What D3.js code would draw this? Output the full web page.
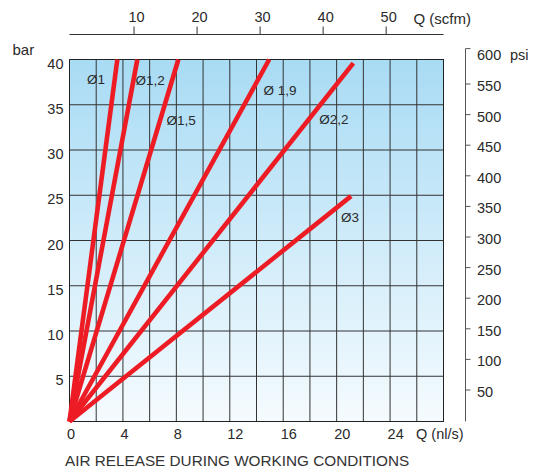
<!DOCTYPE html>
<html>
<head>
<meta charset="utf-8">
<script src="https://cdn.jsdelivr.net/npm/d3@7"></script>
<style>
html,body{margin:0;padding:0;background:#fff;}
svg{display:block;font-family:"Liberation Sans",Arial,sans-serif;}
</style>
</head>
<body>
<svg id="chart" width="547" height="471"></svg>
<script>
// ---- data ----
const seriesNames = ["Ø1", "Ø1,2", "Ø1,5", "Ø 1,9", "Ø2,2", "Ø3"];
// end points of each straight line (start is the origin 0,0)
const endFlow = [3.58, 5.08, 8.15, 14.95, 21.25, 21.08];      // nl/s
const endPressure = [40, 40, 40, 40, 39.6, 24.9];               // bar
// label anchor positions in data units
const labelFlow = [1.98, 6.03, 8.35, 15.76, 19.8, 21.0];
const labelPressure = [37.8, 37.7, 33.3, 36.6, 33.4, 22.6];

const flowTicks = [0, 4, 8, 12, 16, 20, 24];                    // nl/s
const barTicks = [5, 10, 15, 20, 25, 30, 35, 40];
const scfmTicks = [10, 20, 30, 40, 50];
const psiTicks = [50, 100, 150, 200, 250, 300, 350, 400, 450, 500, 550, 600];
const flowGrid = d3.range(0, 29, 2);
const barGrid = d3.range(0, 41, 5);
const SCFM_PER_NLS = 2.119;

(function draw() {
const svg = d3.select("#chart");
const L = 69.5, R = 443.5, T = 59.5, B = 421.5;
const textColor = "#2a2a2a";
const x = d3.scaleLinear().domain([0, 28]).range([L, R]);
const y = d3.scaleLinear().domain([0, 40]).range([B, T]);
const xs = d3.scaleLinear().domain([0, 28 * SCFM_PER_NLS]).range([L + 1, R + 1]);
const yp = d3.scaleLinear().domain([50, 550]).range([389.5, 83.5]);

const defs = svg.append("defs");
const grad = defs.append("linearGradient").attr("id", "bg").attr("x1", 0).attr("y1", 0).attr("x2", 0).attr("y2", 1);
grad.append("stop").attr("offset", "0%").attr("stop-color", "#a8dbf4");
grad.append("stop").attr("offset", "55%").attr("stop-color", "#d3edfa");
grad.append("stop").attr("offset", "100%").attr("stop-color", "#f5fbfe");
svg.append("rect").attr("x", L).attr("y", T).attr("width", R - L).attr("height", B - T).attr("fill", "url(#bg)");

const g = svg.append("g");
g.selectAll("line.v").data(flowGrid).join("line").attr("class", "v")
  .attr("x1", d => x(d)).attr("x2", d => x(d)).attr("y1", T).attr("y2", B)
  .attr("stroke", "#333").attr("stroke-width", 1);
g.selectAll("line.h").data(barGrid).join("line").attr("class", "h")
  .attr("x1", L).attr("x2", R).attr("y1", d => y(d)).attr("y2", d => y(d))
  .attr("stroke", "#333").attr("stroke-width", 1);
svg.append("rect").attr("x", L).attr("y", T).attr("width", R - L).attr("height", B - T)
  .attr("fill", "none").attr("stroke", "#222").attr("stroke-width", 1);

seriesNames.forEach((n, i) => {
  svg.append("path")
    .attr("d", d3.line()([[x(0), y(0)], [x(endFlow[i]), y(endPressure[i])]]))
    .attr("stroke", "#ed1c24").attr("stroke-width", 4.6).attr("fill", "none");
  svg.append("text").attr("x", x(labelFlow[i])).attr("y", y(labelPressure[i]) + 5)
    .attr("text-anchor", "middle").style("font-size", "13.5px").attr("fill", textColor).text(n);
});

svg.selectAll("text.bx").data(flowTicks).join("text").attr("class", "bx")
  .attr("x", d => x(d) - 2.5).attr("y", 439).style("font-size", "14.5px").attr("fill", textColor)
  .text(d => d);
svg.append("text").attr("x", 416).attr("y", 439).style("font-size", "14.5px").attr("fill", textColor).text("Q (nl/s)");
svg.append("text").attr("x", 65).attr("y", 465.5).style("font-size", "15.3px").attr("fill", "#333")
  .text("AIR RELEASE DURING WORKING CONDITIONS");

svg.selectAll("text.ly").data(barTicks).join("text").attr("class", "ly")
  .attr("x", 63.5).attr("y", d => y(d) + 9).attr("text-anchor", "end").style("font-size", "14.5px").attr("fill", textColor)
  .text(d => d);
svg.append("text").attr("x", 12.5).attr("y", 54.5).style("font-size", "15px").attr("fill", textColor).text("bar");

const topAxis = svg.append("g").attr("transform", "translate(0,34.5)")
  .call(d3.axisTop(xs).tickValues(scfmTicks).tickSize(8).tickSizeOuter(0).tickPadding(5));
topAxis.attr("font-family", null).attr("font-size", null);
topAxis.select(".domain").attr("d", `M${L},0H${R}`).attr("stroke", "#333");
topAxis.selectAll(".tick line").attr("stroke", "#333");
topAxis.selectAll(".tick text").style("font-size", "14.5px").attr("fill", textColor).attr("dx", 2.5);
svg.append("text").attr("x", 413.5).attr("y", 23.5).style("font-size", "15px").attr("fill", textColor).text("Q (scfm)");

const rightAxis = svg.append("g").attr("transform", "translate(465.5,0)")
  .call(d3.axisRight(yp).tickValues(psiTicks.filter(d => d < 600)).tickSize(5).tickSizeOuter(0).tickFormat(() => ""));
rightAxis.select(".domain").attr("d", `M5,${yp(607)}H0V${yp(-2)}`).attr("stroke", "#555").attr("fill", "none");
rightAxis.selectAll(".tick line").attr("stroke", "#555");
svg.selectAll("text.py").data(psiTicks).join("text").attr("class", "py")
  .attr("x", 477).attr("y", d => yp(d) + 7.5).style("font-size", "14.5px").attr("fill", textColor).text(d => d);
svg.append("text").attr("x", 510).attr("y", yp(600) + 7.5).style("font-size", "14.5px").attr("fill", textColor).text("psi");
})();
</script>
</body>
</html>
